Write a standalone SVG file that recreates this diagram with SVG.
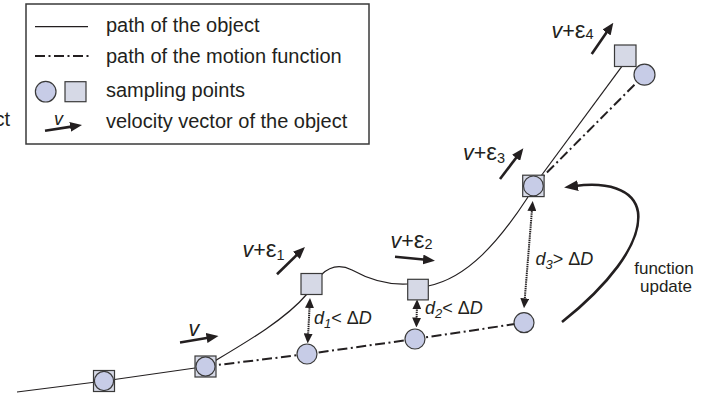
<svg xmlns="http://www.w3.org/2000/svg" width="715" height="399" viewBox="0 0 715 399">
<style>
text{font-family:"Liberation Sans",Arial,sans-serif;fill:#231f20}
.lg{font-size:20px}
.lb{font-size:21.5px}
.ep{font-size:24px}
.sb{font-size:14.5px}
.dl{font-size:18px}
.it{font-style:italic}
.path{fill:none;stroke:#231f20;stroke-width:1.2}
.dd{fill:none;stroke:#231f20;stroke-width:2;stroke-dasharray:10 3.5 2 3.5}
.vel{stroke:#231f20;stroke-width:2.6;marker-end:url(#ah)}
.dot{stroke:#231f20;stroke-width:2;stroke-dasharray:1.4 0.8;marker-start:url(#dh);marker-end:url(#dh)}
.sq{fill:#d6d9e6;stroke:#3a3a3a;stroke-width:1.2}
.ci{fill:#c7cce7;stroke:#3a3a3a;stroke-width:1.2}
</style>
<defs>
<marker id="ah" viewBox="0 0 12 10" refX="3" refY="5" markerWidth="12" markerHeight="10" markerUnits="userSpaceOnUse" orient="auto"><path d="M0,0 L12,5 L0,10 z" fill="#231f20"/></marker>
<marker id="dh" viewBox="0 0 10 9" refX="2" refY="4.5" markerWidth="10" markerHeight="9" markerUnits="userSpaceOnUse" orient="auto-start-reverse"><path d="M0,0 L10,4.5 L0,9 z" fill="#231f20"/></marker>
<marker id="fh" viewBox="0 0 14 11" refX="3" refY="5.5" markerWidth="14" markerHeight="11" markerUnits="userSpaceOnUse" orient="auto"><path d="M0,0 L14,5.5 L0,11 z" fill="#231f20"/></marker>
</defs>

<text x="10" y="126" class="lg" text-anchor="end">ct</text>

<g id="legend">
<rect x="26" y="4" width="343" height="140" fill="#fff" stroke="#3a3a3a" stroke-width="1.5"/>
<line x1="35" y1="26.7" x2="88" y2="26.7" stroke="#231f20" stroke-width="1.2"/>
<line x1="35" y1="56" x2="90" y2="56" class="dd" stroke-dasharray="9 3 2 3"/>
<circle cx="45.7" cy="91.7" r="10.3" class="ci"/>
<rect x="65" y="81.7" width="21" height="20" class="sq"/>
<line x1="45" y1="130.7" x2="73.1" y2="126.4" class="vel"/>
<text x="54" y="125" class="it" style="font-size:18px">v</text>
<text x="106" y="32" class="lg">path of the object</text>
<text x="106" y="62.5" class="lg">path of the motion function</text>
<text x="106" y="96.5" class="lg">sampling points</text>
<text x="106" y="128" class="lg">velocity vector of the object</text>
</g>

<g id="connectors">
<polyline points="17,392 104,381 205.5,366.5" class="path"/>
<path d="M205.5,366.5 C245,343 285,320 307,294" class="path"/>
<path d="M321,275 C330,266 340,264 352,270 C370,280 390,285 408,284" class="path"/>
<path d="M428,286 C468,278 500,240 528,197" class="path"/>
<line x1="541" y1="176" x2="621.7" y2="66.7" class="path"/>
<polyline points="205.5,366.5 307,354 415,339 524,322.7" class="dd"/>
<line x1="533.5" y1="186" x2="644.5" y2="74.7" class="dd"/>
<line x1="309.6" y1="306" x2="308.1" y2="335.5" class="dot"/>
<line x1="416.9" y1="307.3" x2="416.6" y2="319.5" class="dot"/>
<line x1="532.05" y1="209" x2="524.65" y2="300.3" class="dot"/>
<path d="M562,322 C605,288 642,245 638,212 C634,188 605,182 575,186" fill="none" stroke="#231f20" stroke-width="2.6" marker-end="url(#fh)"/>
<line x1="180" y1="342.5" x2="209.6" y2="337.5" class="vel"/>
<line x1="277" y1="274.2" x2="298.5" y2="253.3" class="vel"/>
<line x1="395" y1="256.7" x2="426" y2="259.8" class="vel"/>
<line x1="500" y1="179" x2="517.9" y2="155.5" class="vel"/>
<line x1="591.7" y1="54" x2="608.2" y2="30.1" class="vel"/>
</g>

<g id="n1"><rect x="93.5" y="370.5" width="21" height="21" class="sq"/><circle cx="104" cy="381" r="9.6" class="ci"/></g>
<g id="n2"><rect x="195" y="356" width="21" height="21" class="sq"/><circle cx="205.5" cy="366.5" r="9.6" class="ci"/></g>
<g id="s1"><rect x="301" y="273.5" width="21" height="21" class="sq"/></g>
<g id="s2"><rect x="407.7" y="279.3" width="20.6" height="20.6" class="sq"/></g>
<g id="n3"><rect x="522.7" y="175.2" width="21.4" height="21.4" class="sq"/><circle cx="533.4" cy="185.9" r="9.9" class="ci"/></g>
<g id="s4"><rect x="614.5" y="45" width="21.5" height="21.5" class="sq"/></g>
<g id="c4"><circle cx="644.5" cy="74.7" r="10.5" class="ci"/></g>
<g id="ca"><circle cx="307" cy="354" r="10" class="ci"/></g>
<g id="cb"><circle cx="415" cy="339" r="10" class="ci"/></g>
<g id="cc"><circle cx="524" cy="322.7" r="10" class="ci"/></g>

<g id="labels">
<text x="188.5" y="336" class="lb it">v</text>
<text x="242.5" y="256.7" class="lb"><tspan class="it">v</tspan>+<tspan class="ep">ε</tspan><tspan class="sb" dy="3">1</tspan></text>
<text x="390.5" y="248.3" class="lb"><tspan class="it">v</tspan>+<tspan class="ep">ε</tspan><tspan class="sb" dy="1">2</tspan></text>
<text x="463" y="160" class="lb"><tspan class="it">v</tspan>+<tspan class="ep">ε</tspan><tspan class="sb" dy="3">3</tspan></text>
<text x="551.5" y="37.7" class="lb"><tspan class="it">v</tspan>+<tspan class="ep">ε</tspan><tspan class="sb" dy="1">4</tspan></text>
<text x="314" y="323.5" class="dl"><tspan class="it">d</tspan><tspan class="it" style="font-size:13px" dy="4">1</tspan><tspan dy="-4">&lt; Δ</tspan><tspan class="it">D</tspan></text>
<text x="425" y="314" class="dl"><tspan class="it">d</tspan><tspan class="it" style="font-size:13px" dy="4">2</tspan><tspan dy="-4">&lt; Δ</tspan><tspan class="it">D</tspan></text>
<text x="535.5" y="265" class="dl"><tspan class="it">d</tspan><tspan class="it" style="font-size:13px" dy="4">3</tspan><tspan dy="-4">&gt; Δ</tspan><tspan class="it">D</tspan></text>
<text x="664" y="273.5" text-anchor="middle" style="font-size:17px">function</text>
<text x="666" y="292" text-anchor="middle" style="font-size:17px">update</text>
</g>
</svg>
